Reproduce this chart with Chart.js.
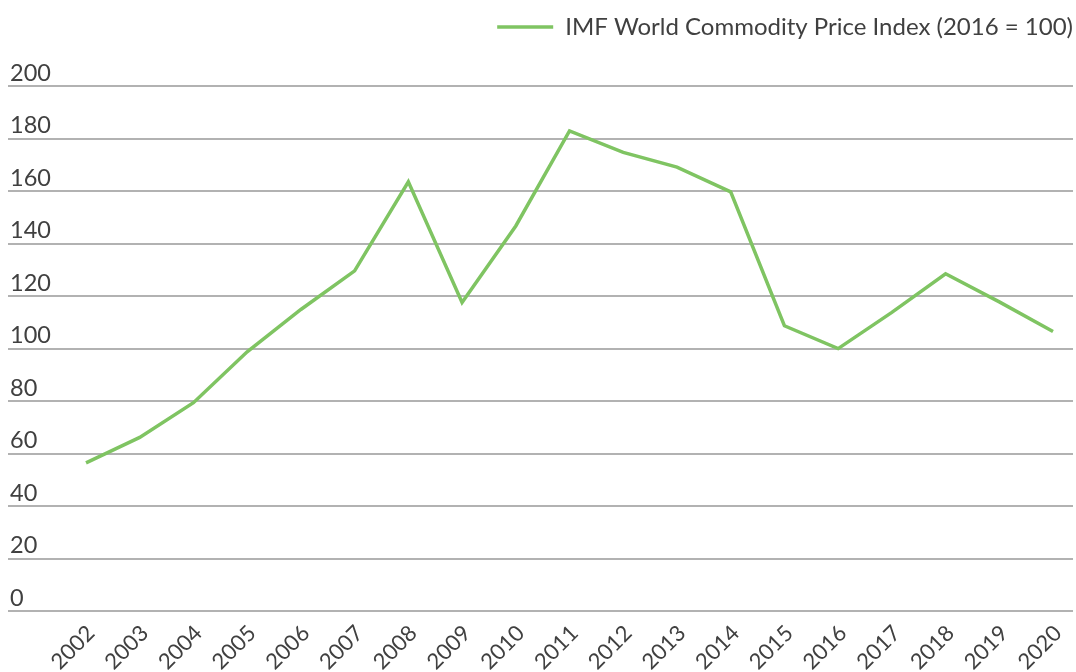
<!DOCTYPE html>
<html>
<head>
<meta charset="utf-8">
<script src="https://cdn.jsdelivr.net/npm/chart.js@4/dist/chart.umd.min.js"></script>
<style>
  html, body { margin: 0; padding: 0; background: #fff; }
  #wrap { width: 1076px; height: 672px; }
</style>
</head>
<body>
<div id="wrap"><canvas id="chart"></canvas></div>
<script>
// Índice de preços de commodities do FMI (2016 = 100)
const anos    = [2002, 2003, 2004, 2005, 2006, 2007, 2008, 2009, 2010, 2011,
                 2012, 2013, 2014, 2015, 2016, 2017, 2018, 2019, 2020];
const indice  = [56.5, 66.2, 79.4, 98.8, 114.9, 129.6, 163.5, 117.6, 146.7, 182.9,
                 174.7, 169.1, 159.7, 108.7, 100, 113.8, 128.5, 117.8, 106.5];
const ticksY  = [0, 20, 40, 60, 80, 100, 120, 140, 160, 180, 200];
const rotulo  = 'IMF World Commodity Price Index (2016 = 100)';

const VERDE = '#7fc462';
const TEXTO = '#404040';
const GRADE = '#b2b2b2';

// espaço extra abaixo da legenda
const espacoLegenda = {
  id: 'espacoLegenda',
  beforeInit(chart) {
    const fitOriginal = chart.legend.fit;
    chart.legend.fit = function () {
      fitOriginal.bind(chart.legend)();
      this.height += 37;
    };
  },
};

new Chart(document.getElementById('chart'), {
  type: 'line',
  data: {
    datasets: [{
      label: rotulo,
      data: anos.map((a, i) => ({ x: a, y: indice[i] })),
      borderColor: VERDE,
      backgroundColor: VERDE,
      borderWidth: 3.5,
      pointRadius: 0,
      tension: 0,
    }],
  },
  options: {
    responsive: true,
    maintainAspectRatio: false,
    animation: false,
    layout: { padding: { left: 4, right: 3, top: 15, bottom: -4 } },
    plugins: {
      legend: {
        position: 'top',
        align: 'end',
        labels: {
          usePointStyle: true,
          pointStyle: 'line',
          pointStyleWidth: 56,
          color: TEXTO,
          font: { family: 'Lato', size: 24 },
          padding: 0,
        },
      },
      tooltip: { enabled: false },
    },
    scales: {
      x: {
        type: 'linear',
        min: 2000.548,
        max: 2020.372,
        afterBuildTicks: (scale) => { scale.ticks = anos.map((v) => ({ value: v })); },
        grid: { display: false },
        border: { display: false },
        ticks: {
          color: TEXTO,
          font: { family: 'Lato', size: 22 },
          minRotation: 45,
          maxRotation: 45,
          autoSkip: false,
          padding: 1,
          labelOffset: 5,
          callback: (v) => String(v),
        },
      },
      y: {
        min: 0,
        max: 200,
        afterBuildTicks: (scale) => { scale.ticks = ticksY.map((v) => ({ value: v })); },
        grid: { color: GRADE, lineWidth: 2, drawTicks: false },
        border: { display: false },
        ticks: {
          mirror: true,
          padding: 2,
          labelOffset: -13,
          color: TEXTO,
          font: { family: 'Lato', size: 23.5 },
        },
      },
    },
  },
  plugins: [espacoLegenda],
});
</script>
</body>
</html>
